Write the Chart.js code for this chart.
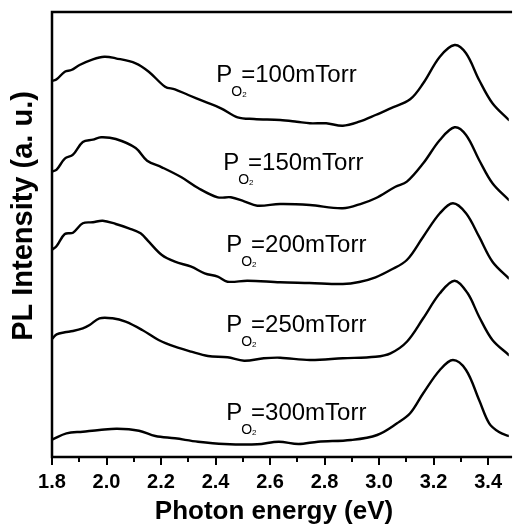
<!DOCTYPE html>
<html><head><meta charset="utf-8">
<script src="https://cdn.jsdelivr.net/npm/chart.js@4.4.0/dist/chart.umd.min.js"></script>
<style>html,body{margin:0;padding:0;background:#fff}#wrap{width:515px;height:524px;position:relative}</style>
</head><body><div id="wrap"><canvas id="c" width="515" height="524"></canvas></div>
<script>
// ---- data (photon energy in eV, PL intensity in arbitrary units, curves offset vertically) ----
const seriesNames = ['100mTorr', '150mTorr', '200mTorr', '250mTorr', '300mTorr'];

const e100 = [1.8025,1.817,1.847,1.871,1.901,1.950,1.992,2.034,2.107,2.155,2.215,2.251,2.300,2.360,2.420,2.481,2.541,2.637,2.698,2.746,2.806,2.867,2.927,2.987,3.042,3.114,3.162,3.223,3.277,3.319,3.367,3.416,3.476];
const i100 = [376.3,377.7,385.3,387,392,397.7,400.3,398.7,393.7,385.3,370.3,367.7,362,355.3,348.7,339.7,338,337,335.3,333.7,333.7,331.3,335.3,342,348.7,357.7,373.7,400.3,412,403.7,377,353.7,337];

const e150 = [1.8025,1.817,1.847,1.877,1.913,1.950,1.980,2.034,2.107,2.149,2.203,2.275,2.336,2.408,2.456,2.505,2.553,2.637,2.746,2.867,2.939,2.987,3.060,3.102,3.162,3.223,3.277,3.319,3.367,3.416,3.476];
const i150 = [285.7,287.3,298.3,302.3,315,317.3,319.7,318,309,296.3,289.7,279.7,269,259.7,259.7,255.7,251.3,253,252,248.7,253.7,258.7,270.3,275.3,293.7,317,329.7,322,297,273.7,257];

const e200 = [1.8025,1.817,1.847,1.877,1.913,1.950,1.986,2.034,2.082,2.125,2.155,2.203,2.251,2.311,2.360,2.408,2.444,2.517,2.637,2.745,2.867,2.927,2.987,3.042,3.102,3.162,3.223,3.271,3.319,3.367,3.416,3.476];
const i200 = [207.7,211,223,224.3,233.7,234.7,236.3,233,228.7,223.7,215.3,202,195.3,190.3,183.7,180.3,175.3,176.3,174.7,174,173,175,179.7,187,197,220.3,243.7,253.7,243.7,220.3,195.3,178.7];

const e250 = [1.8025,1.817,1.847,1.877,1.913,1.938,1.974,2.022,2.070,2.131,2.191,2.251,2.311,2.372,2.444,2.505,2.577,2.637,2.746,2.867,2.987,3.042,3.102,3.162,3.223,3.277,3.325,3.367,3.416,3.476];
const i250 = [118.7,122.7,124.7,126,128.7,132,138.7,138.7,135.3,127,117,110.3,105.3,101,99.7,96.3,98.7,99.3,97,98.7,100.3,103.7,115.3,138.7,163.7,176.3,163.7,140.3,117,102];

const e300 = [1.8025,1.853,1.913,1.974,2.039,2.119,2.179,2.251,2.336,2.432,2.553,2.632,2.704,2.776,2.897,2.993,3.066,3.114,3.162,3.223,3.271,3.319,3.367,3.404,3.440,3.476];
const i300 = [17.7,23.7,25.3,27,28.3,26.3,21,18.7,15.3,13,12.7,15.3,13,15.3,17,22,33.7,43.7,63.7,87,97,87,57,33.7,25,21];

const xTickValues = [1.8, 2.0, 2.2, 2.4, 2.6, 2.8, 3.0, 3.2, 3.4];
const xMinorTicks = [1.9, 2.1, 2.3, 2.5, 2.7, 2.9, 3.1, 3.3];

// label anchor (left of "P", text baseline) in data coordinates
const labelE = [2.403, 2.428, 2.439, 2.439, 2.439];
const labelV = [375, 287, 205, 125, 37];

const xTitle = 'Photon energy (eV)';
const yTitle = 'PL Intensity (a. u.)';

// ---- build ----
const energies = [e100, e150, e200, e250, e300];
const intens = [i100, i150, i200, i250, i300];
const datasets = seriesNames.map((n, k) => ({
  label: n,
  data: energies[k].map((x, j) => ({x: x, y: intens[k][j]})),
  borderColor: '#000',
  borderWidth: 2.4,
  pointRadius: 0,
  fill: false,
  tension: 0.35,
  borderCapStyle: 'round',
  borderJoinStyle: 'round'
}));

const FONT = '"Liberation Sans", Arial, sans-serif';

const decor = {
  id: 'decor',
  afterDraw(chart) {
    const ctx = chart.ctx, a = chart.chartArea;
    const xs = chart.scales.x, ys = chart.scales.y;
    ctx.save();
    ctx.strokeStyle = '#000';
    ctx.lineWidth = 2.5;
    ctx.lineCap = 'square';
    ctx.beginPath();
    ctx.moveTo(a.right + 2, a.top);
    ctx.lineTo(a.left, a.top);
    ctx.lineTo(a.left, a.bottom);
    ctx.lineTo(a.right + 2, a.bottom);
    ctx.stroke();
    ctx.lineWidth = 2;
    ctx.lineCap = 'butt';
    xTickValues.forEach(v => {
      const px = Math.round(xs.getPixelForValue(v));
      ctx.beginPath(); ctx.moveTo(px, a.bottom); ctx.lineTo(px, a.bottom + 8); ctx.stroke();
    });
    xMinorTicks.forEach(v => {
      const px = Math.round(xs.getPixelForValue(v));
      ctx.beginPath(); ctx.moveTo(px, a.bottom); ctx.lineTo(px, a.bottom + 5); ctx.stroke();
    });
    ctx.fillStyle = '#000';
    // axis titles
    ctx.font = 'bold 26px ' + FONT;
    ctx.textAlign = 'center';
    ctx.textBaseline = 'alphabetic';
    ctx.fillText(xTitle, 274, 519);
    ctx.save();
    ctx.translate(32, 216);
    ctx.rotate(-Math.PI / 2);
    ctx.font = 'bold 29px ' + FONT;
    ctx.fillText(yTitle, 0, 0);
    ctx.restore();
    // series labels
    ctx.textAlign = 'left';
    seriesNames.forEach((n, k) => {
      let x = xs.getPixelForValue(labelE[k]);
      const y = ys.getPixelForValue(labelV[k]);
      ctx.font = '24px ' + FONT;
      ctx.fillText('P', x, y);
      x += ctx.measureText('P').width - 1;
      ctx.font = '14px ' + FONT;
      ctx.fillText('O', x, y + 14);
      const ow = ctx.measureText('O').width;
      ctx.font = '8px ' + FONT;
      ctx.fillText('2', x + ow, y + 15);
      ctx.font = '24px ' + FONT;
      ctx.fillText('=' + n, x + ow - 1, y);
    });
    ctx.restore();
  }
};

new Chart(document.getElementById('c'), {
  type: 'line',
  data: {datasets},
  options: {
    responsive: false,
    animation: false,
    devicePixelRatio: 1,
    layout: {padding: {left: 52, top: 12, right: 0, bottom: 0}},
    plugins: {legend: {display: false}, tooltip: {enabled: false}},
    scales: {
      x: {
        type: 'linear', min: 1.8, max: 3.476,
        afterBuildTicks: s => { s.ticks = xTickValues.map(v => ({value: v})); },
        afterFit: s => { s.height = 67; },
        grid: {display: false, drawTicks: false},
        border: {display: false},
        ticks: {
          callback: v => Number(v).toFixed(1),
          font: {family: FONT, weight: 'bold', size: 20},
          color: '#000', padding: 13, maxRotation: 0, autoSkip: false
        }
      },
      y: {type: 'linear', min: 0, max: 445, display: false}
    }
  },
  plugins: [decor]
});
</script></body></html>
